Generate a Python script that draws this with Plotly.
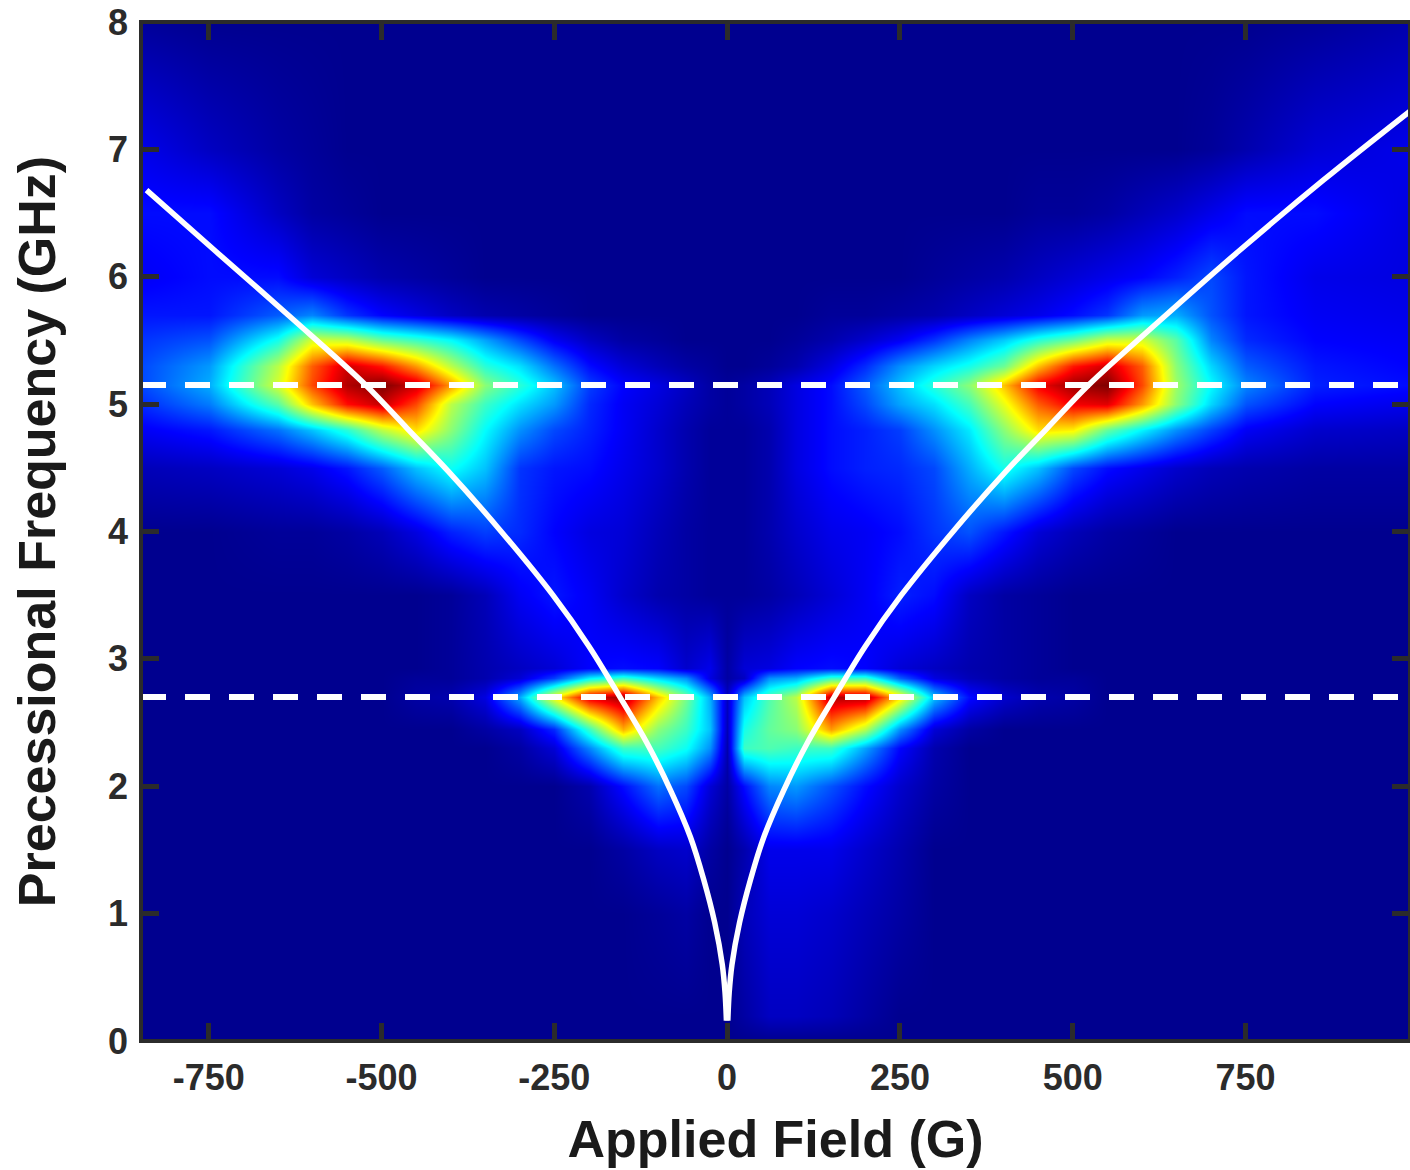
import plotly.graph_objects as go

# Axis grid of the colour map (G, GHz)
field_g = [-848,-750,-650,-600,-550,-500,-450,-400,-350,-300,-250,-200,-150,-100,-60,-25,
           0,
           25,60,100,150,200,250,300,350,400,450,500,550,600,650,700,750,850,988]
freq_ghz = [0,0.2,1,1.5,2,2.3,2.45,2.7,2.85,2.93,3.5,4,4.5,4.8,5,5.15,5.3,5.5,5.7,6,6.5,7,8]

# Estimated normalised intensity, one list per frequency row
r000 = [0]*35
r002 = [0,0,0,0,0,0,0,0,0,0,0,0,0,0,0,0, 0, .02,.05,.05,.04,.02,0,0,0,0,0,0,0,0,0,0,0,0,0]
r010 = [0,0,0,0,0,0,0,0,0,0,0,0,0,.01,.02,0, 0, .04,.07,.07,.06,.04,.02,0,0,0,0,0,0,0,0,0,0,0,0]
r015 = [0,0,0,0,0,0,0,0,0,0,0,0,.02,.05,.06,.02, 0, .03,.09,.09,.09,.06,.03,0,0,0,0,0,0,0,0,0,0,0,0]
r020 = [0,0,0,0,0,0,0,0,0,0,0,.03,.12,.22,.18,.07, .02, .12,.24,.26,.19,.12,.06,.02,0,0,0,0,0,0,0,0,0,0,0]
r023 = [0,0,0,0,0,0,0,0,0,.02,.07,.24,.42,.43,.37,.25, .03, .42,.44,.42,.42,.27,.11,.03,0,0,0,0,0,0,0,0,0,0,0]
r0245 = [0,0,0,0,0,0,0,0,.02,.05,.15,.42,.70,.50,.42,.30, .04, .38,.46,.50,.72,.55,.25,.07,.02,0,0,0,0,0,0,0,0,0,0]
r027 = [0,0,0,0,0,0,.02,.03,.08,.28,.62,.90,.97,.68,.48,.28, .05, .30,.44,.55,.95,.95,.65,.30,.12,.06,.03,.02,0,0,0,0,0,0,0]
r0285 = [0,0,0,0,0,0,.01,.01,.03,.07,.17,.35,.42,.32,.25,.08, .02, .05,.25,.28,.42,.42,.20,.08,.04,.02,.01,.01,0,0,0,0,0,0,0]
r030 = [0,0,0,0,0,0,0,.01,.03,.05,.07,.11,.12,.11,.06,.09, .02, .07,.08,.11,.12,.11,.07,.05,.03,.02,.01,0,0,0,0,0,0,0,0]
r035 = [0,0,0,0,0,0,0,.01,.04,.10,.13,.10,.06,.03,.02,.01, .01, .01,.02,.04,.07,.10,.14,.12,.05,.02,.01,0,0,0,0,0,0,0,0]
r040 = [0,0,.01,.01,.02,.04,.08,.14,.17,.15,.11,.08,.07,.04,.02,.01, .01, .01,.03,.06,.09,.10,.12,.16,.19,.13,.07,.04,.02,.01,0,0,0,0,0]
r045 = [.04,.05,.07,.09,.13,.20,.30,.37,.30,.16,.13,.12,.09,.06,.03,.01, .01, .01,.03,.08,.12,.14,.15,.18,.28,.38,.30,.18,.12,.09,.06,.04,.03,.02,.02]
r048 = [.10,.13,.22,.30,.40,.55,.65,.50,.36,.25,.18,.14,.10,.06,.03,.01, .01, .01,.03,.08,.12,.14,.17,.25,.34,.50,.65,.63,.46,.35,.25,.17,.10,.06,.05]
r050 = [.15,.23,.45,.68,.86,.93,.80,.55,.42,.33,.26,.15,.10,.07,.04,.02, .01, .02,.04,.08,.12,.18,.27,.33,.43,.60,.78,.88,.90,.72,.50,.32,.19,.11,.09]
r0515 = [.18,.28,.58,.80,.95,1.0,.92,.72,.50,.40,.30,.17,.11,.08,.05,.02, .01, .02,.04,.08,.12,.20,.30,.40,.50,.68,.88,.97,1.0,.80,.52,.36,.24,.14,.12]
r053 = [.18,.26,.55,.78,.92,.85,.72,.55,.40,.33,.22,.12,.07,.04,.02,.01, 0, 0,.01,.03,.08,.15,.25,.32,.38,.47,.68,.85,.92,.78,.50,.32,.20,.13,.11]
r055 = [.16,.19,.38,.58,.56,.47,.42,.36,.27,.18,.10,.05,.02,.01,0,0, 0, 0,0,.01,.03,.06,.10,.16,.24,.31,.40,.47,.57,.58,.45,.24,.15,.11,.10]
r057 = [.13,.13,.20,.24,.16,.11,.08,.05,.03,.02,.01,0,0,0,0,0, 0, 0,0,0,.01,.01,.02,.03,.05,.07,.09,.12,.16,.26,.28,.19,.13,.10,.09]
r060 = [.10,.12,.12,.07,.05,.03,.02,.01,0,0,0,0,0,0,0,0, 0, 0,0,0,0,0,0,.01,.02,.03,.05,.07,.09,.11,.14,.18,.13,.09,.08]
r065 = [.12,.12,.05,.02,.01,0,0,0,0,0,0,0,0,0,0,0, 0, 0,0,0,0,0,0,0,0,0,.01,.01,.02,.04,.06,.09,.12,.12,.08]
r070 = [.09,.05,.02,.01,0,0,0,0,0,0,0,0,0,0,0,0, 0, 0,0,0,0,0,0,0,0,0,0,0,0,0,0,.01,.03,.07,.09]
r080 = [.01,0,0,0,0,0,0,0,0,0,0,0,0,0,0,0, 0, 0,0,0,0,0,0,0,0,0,0,0,0,0,0,0,0,.01,.03]
intensity = [r000,r002,r010,r015,r020,r023,r0245,r027,r0285,r030,r035,r040,r045,r048,r050,r0515,r053,r055,r057,r060,r065,r070,r080]

# Precession curve
curve_field_right = [1,3,7,18,34,53,82,116,155,200,252,330,403,463,523,629,740,863,988]
curve_freq_right = [.16,.38,.60,.93,1.27,1.60,1.97,2.34,2.70,3.10,3.50,4.02,4.47,4.81,5.15,5.67,6.2,6.76,7.3]
curve_field_left = [-1,-3,-7,-18,-34,-53,-82,-116,-155,-200,-252,-330,-403,-463,-523,-629,-740,-840]
curve_freq_left = [.16,.38,.60,.93,1.27,1.60,1.97,2.34,2.70,3.10,3.50,4.02,4.47,4.81,5.15,5.67,6.2,6.68]

# Two dashed resonance levels
level_upper = 5.15
level_lower = 2.70
x_span = [-848, 988]

x_ticks = [-750,-500,-250,0,250,500,750]
y_ticks = [0,1,2,3,4,5,6,7,8]

JET = [[0,"#00008f"],[0.11,"#0000ff"],[0.36,"#00ffff"],[0.62,"#ffff00"],[0.87,"#ff0000"],[1,"#800000"]]
FONT = "Liberation Sans"
INK = "#2b2b2b"

fig = go.Figure()
fig.add_trace(go.Heatmap(x=field_g, y=freq_ghz, z=intensity, colorscale=JET, zmin=0, zmax=1,
                         zsmooth="best", showscale=False))
for level in (level_upper, level_lower):
    fig.add_trace(go.Scatter(x=x_span, y=[level, level], mode="lines",
                             line=dict(color="white", width=6, dash="25px,19px"), showlegend=False))
fig.add_trace(go.Scatter(x=curve_field_right, y=curve_freq_right, mode="lines",
                         line=dict(color="white", width=5.5, shape="spline"), showlegend=False))
fig.add_trace(go.Scatter(x=curve_field_left, y=curve_freq_left, mode="lines",
                         line=dict(color="white", width=5.5, shape="spline"), showlegend=False))

axis_common = dict(showgrid=False, zeroline=False, showline=False, ticks="inside", ticklen=18, tickwidth=5,
                   tickcolor=INK, mirror="ticks", tickfont=dict(family=FONT, size=36, color=INK, weight="bold"))
fig.update_layout(
    width=1410, height=1170, margin=dict(l=141, r=0, t=22, b=129, autoexpand=False),
    paper_bgcolor="white", plot_bgcolor="#00008f", showlegend=False,
    xaxis=dict(range=x_span, tickvals=x_ticks, ticktext=[str(t) for t in x_ticks], ticklabelstandoff=12,
               title=dict(text="Applied Field (G)", standoff=23,
                          font=dict(family=FONT, size=52, color="#1a1a1a", weight="bold")), **axis_common),
    yaxis=dict(range=[0, 8], tickvals=y_ticks, ticktext=[str(t) for t in y_ticks], ticklabelstandoff=12,
               title=dict(text="Precessional Frequency (GHz)", standoff=35,
                          font=dict(family=FONT, size=52, color="#1a1a1a", weight="bold")), **axis_common),
    shapes=[dict(type="rect", xref="paper", yref="paper", x0=0, x1=1, y0=0, y1=1,
                 line=dict(color=INK, width=4), layer="above")],
)
fig.write_html("out.html", config={"displayModeBar": False},
               post_script="document.body.style.margin='0';")
